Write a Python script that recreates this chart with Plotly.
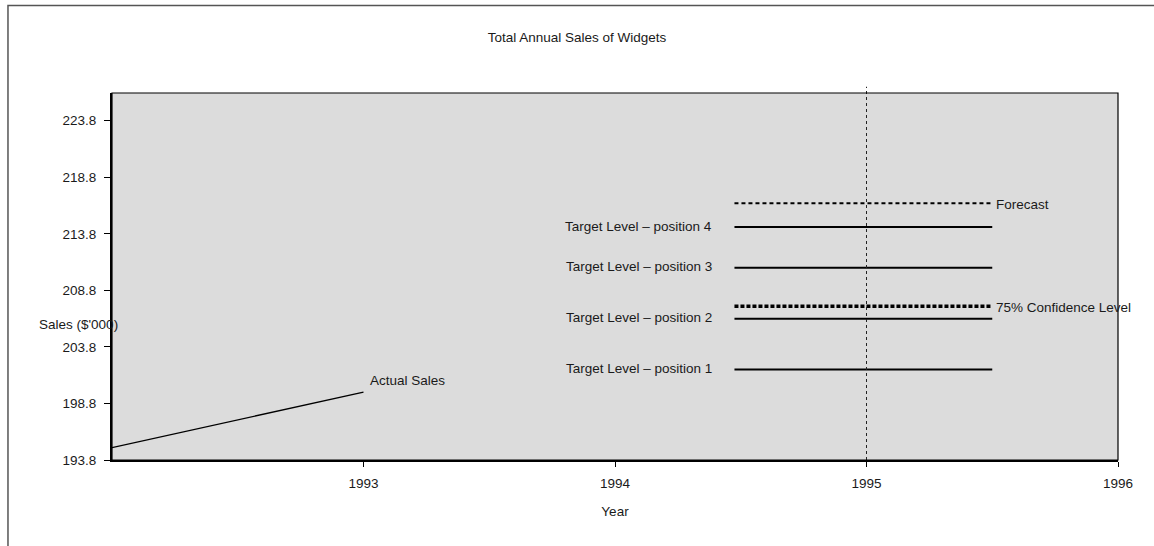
import plotly.graph_objects as go

# Historical sales
actual_years = [1992, 1993]
actual_sales = [194.9, 199.8]

# Horizontal reference levels drawn across the forecast window
level_span = [1994.475, 1995.5]
target_labels = ["Target Level – position 1", "Target Level – position 2",
                 "Target Level – position 3", "Target Level – position 4"]
target_levels = [201.8, 206.3, 210.8, 214.4]
forecast_label = "Forecast"
forecast_level = 216.5
confidence_label = "75% Confidence Level"
confidence_level = 207.4
marker_year = 1995

y_ticks = [193.8, 198.8, 203.8, 208.8, 213.8, 218.8, 223.8]
x_ticks = [1993, 1994, 1995, 1996]

FONT = "Liberation Sans, Arial, sans-serif"
INK = "#1a1a1a"
SIZE = 13.5

fig = go.Figure()

fig.add_trace(go.Scatter(x=actual_years, y=actual_sales, mode="lines",
                         line=dict(color="black", width=1.3), hoverinfo="skip"))

for lvl in target_levels:
    fig.add_trace(go.Scatter(x=level_span, y=[lvl, lvl], mode="lines",
                             line=dict(color="black", width=2), hoverinfo="skip"))

fig.add_trace(go.Scatter(x=level_span, y=[forecast_level] * 2, mode="lines",
                         line=dict(color="black", width=2, dash="4px,3px"),
                         hoverinfo="skip"))
fig.add_trace(go.Scatter(x=level_span, y=[confidence_level] * 2, mode="lines",
                         line=dict(color="black", width=3.5, dash="4px,2px"),
                         hoverinfo="skip"))

annotations = []
for name, lvl in zip(target_labels, target_levels):
    annotations.append(dict(x=level_span[0], y=lvl, text=name, showarrow=False,
                            xanchor="right", yanchor="middle", xshift=-20, yshift=1))
for name, lvl in [(forecast_label, forecast_level), (confidence_label, confidence_level)]:
    annotations.append(dict(x=level_span[1], y=lvl, text=name, showarrow=False,
                            xanchor="left", yanchor="middle", xshift=2, yshift=-1))
annotations.append(dict(x=actual_years[-1], y=actual_sales[-1], text="Actual Sales",
                        showarrow=False, xanchor="left", yanchor="middle",
                        xshift=4, yshift=12))
# horizontal y-axis caption to the left of the plot
annotations.append(dict(x=-0.0746, y=0.368, xref="paper", yref="paper",
                        text="Sales ($'000)", showarrow=False,
                        xanchor="left", yanchor="middle"))

shapes = [
    # dotted marker at the current year, rising slightly above the plot
    dict(type="line", xref="x", yref="paper", x0=marker_year, x1=marker_year,
         y0=0, y1=1.017, line=dict(color="#222", width=1, dash="dot")),
    # plot-area frame
    dict(type="rect", xref="paper", yref="paper", x0=0, x1=1, y0=0, y1=1,
         line=dict(color="black", width=1.2), layer="above"),
    # outer chart frame
    dict(type="rect", xref="paper", yref="paper", x0=-0.1034, x1=1.2,
         y0=-0.5, y1=1.2385, line=dict(color="#555", width=1.5)),
]

fig.update_layout(
    width=1154, height=546,
    margin=dict(l=112, r=36, t=93, b=86),
    paper_bgcolor="white", plot_bgcolor="#dcdcdc",
    showlegend=False,
    font=dict(family=FONT, size=SIZE, color=INK),
    title=dict(text="Total Annual Sales of Widgets", x=0.5, xref="container",
               xanchor="center", y=1 - 37 / 546, yanchor="middle",
               font=dict(family=FONT, size=SIZE, color=INK)),
    annotations=annotations,
    shapes=shapes,
    xaxis=dict(range=[1992, 1996], tickvals=x_ticks, ticktext=[str(v) for v in x_ticks],
               showgrid=False, zeroline=False, showline=True, linecolor="black",
               linewidth=2, ticks="outside", ticklen=5, tickcolor="black",
               ticklabelstandoff=5, tickfont=dict(size=SIZE),
               title=dict(text="Year", standoff=16, font=dict(size=SIZE))),
    yaxis=dict(range=[193.8, 226.25], tickvals=y_ticks,
               ticktext=[f"{v:.1f}" for v in y_ticks],
               showgrid=False, zeroline=False, showline=True, linecolor="black",
               linewidth=2, ticks="outside", ticklen=6, tickcolor="black",
               ticklabelstandoff=5, tickfont=dict(size=SIZE)),
)

fig.write_html("out.html")
